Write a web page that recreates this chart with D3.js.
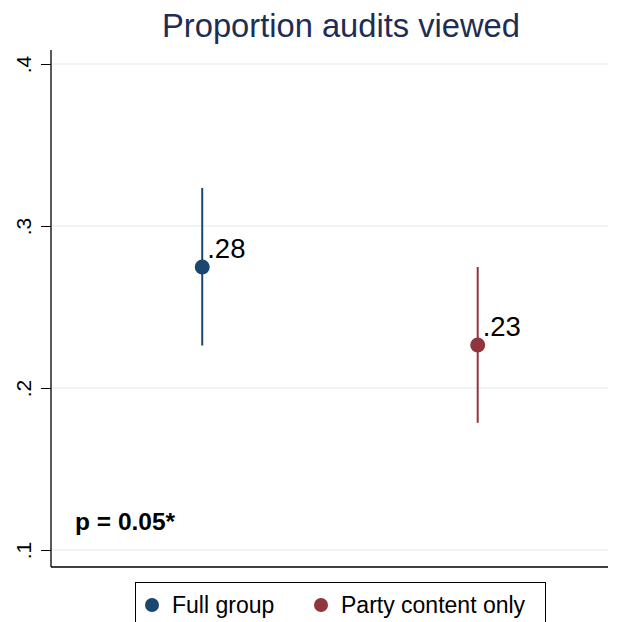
<!DOCTYPE html>
<html>
<head>
<meta charset="utf-8">
<script src="https://cdn.jsdelivr.net/npm/d3@7"></script>
<style>
  html, body { margin: 0; padding: 0; background: #fff; }
  svg { display: block; font-family: "Liberation Sans", Arial, Helvetica, sans-serif; }
</style>
</head>
<body>
<svg id="chart" width="621" height="622"></svg>
<script>
// Groups, point estimates and 95% confidence bounds
const groups = ["Full group", "Party content only"];
const estimates = [0.2747, 0.2265];
const lowerBounds = [0.2262, 0.1785];
const upperBounds = [0.3235, 0.2747];
const valueLabels = [".28", ".23"];
const colors = ["#1a476f", "#90353b"];
const yTicks = [0.1, 0.2, 0.3, 0.4];
const yTickLabels = [".1", ".2", ".3", ".4"];
const titleText = "Proportion audits viewed";
const noteText = "p = 0.05*";

const svg = d3.select("#chart");
const plot = { left: 51, right: 608, top: 50, bottom: 567 };

const x = d3.scaleLinear().domain([0.451, 2.473]).range([plot.left, plot.right]);
const y = d3.scaleLinear().domain([0.1, 0.4]).range([550, 64]);

// Gridlines
svg.append("g")
  .selectAll("line")
  .data(yTicks)
  .join("line")
  .attr("x1", plot.left + 1)
  .attr("x2", plot.right)
  .attr("y1", d => y(d))
  .attr("y2", d => y(d))
  .attr("stroke", "#eaf2f3")
  .attr("stroke-width", 1.5);

// Y axis
const yAxis = d3.axisLeft(y)
  .tickValues(yTicks)
  .tickFormat((d, i) => yTickLabels[i])
  .tickSize(10)
  .tickSizeOuter(0);

const gy = svg.append("g")
  .attr("transform", `translate(${plot.left},0)`)
  .call(yAxis);
gy.select(".domain").remove();
gy.selectAll(".tick line").attr("stroke", "#000").attr("stroke-width", 1);
gy.selectAll(".tick text")
  .attr("font-size", 21)
  .attr("fill", "#000")
  .attr("transform", "translate(-20,0) rotate(-90)")
  .attr("x", 0)
  .attr("dy", 0)
  .attr("text-anchor", "middle");

// Axis lines (left and bottom)
svg.append("line")
  .attr("x1", plot.left).attr("x2", plot.left)
  .attr("y1", plot.top).attr("y2", plot.bottom)
  .attr("stroke", "#000").attr("stroke-width", 1.3);
svg.append("line")
  .attr("x1", plot.left).attr("x2", plot.right)
  .attr("y1", plot.bottom).attr("y2", plot.bottom)
  .attr("stroke", "#000").attr("stroke-width", 1.3);

// Confidence intervals
const idx = d3.range(groups.length);
svg.append("g")
  .selectAll("line")
  .data(idx)
  .join("line")
  .attr("x1", i => x(i + 1))
  .attr("x2", i => x(i + 1))
  .attr("y1", i => y(lowerBounds[i]))
  .attr("y2", i => y(upperBounds[i]))
  .attr("stroke", i => colors[i])
  .attr("stroke-width", 2);

// Point estimates
svg.append("g")
  .selectAll("circle")
  .data(idx)
  .join("circle")
  .attr("cx", i => x(i + 1))
  .attr("cy", i => y(estimates[i]))
  .attr("r", 7.5)
  .attr("fill", i => colors[i]);

// Value labels
svg.append("g")
  .selectAll("text")
  .data(idx)
  .join("text")
  .attr("x", i => x(i + 1) + 5)
  .attr("y", i => y(estimates[i]) - 9)
  .attr("font-size", 27.5)
  .attr("fill", "#000")
  .text(i => valueLabels[i]);

// Title
svg.append("text")
  .attr("x", 341)
  .attr("y", 37)
  .attr("text-anchor", "middle")
  .attr("font-size", 32.7)
  .attr("fill", "#1e2d53")
  .text(titleText);

// Note
svg.append("text")
  .attr("x", 75)
  .attr("y", 530)
  .attr("font-size", 24.5)
  .attr("font-weight", "bold")
  .attr("fill", "#000")
  .text(noteText);

// Legend
const legend = svg.append("g");
legend.append("rect")
  .attr("x", 135.5).attr("y", 582.5)
  .attr("width", 410).attr("height", 60)
  .attr("fill", "#fff")
  .attr("stroke", "#000").attr("stroke-width", 1);
const legendX = [152, 321];
const items = legend.selectAll("g.item")
  .data(idx)
  .join("g")
  .attr("class", "item");
items.append("circle")
  .attr("cx", i => legendX[i])
  .attr("cy", 605)
  .attr("r", 7)
  .attr("fill", i => colors[i]);
items.append("text")
  .attr("x", i => legendX[i] + 20)
  .attr("y", 613)
  .attr("font-size", 23)
  .attr("fill", "#000")
  .text(i => groups[i]);
</script>
</body>
</html>
